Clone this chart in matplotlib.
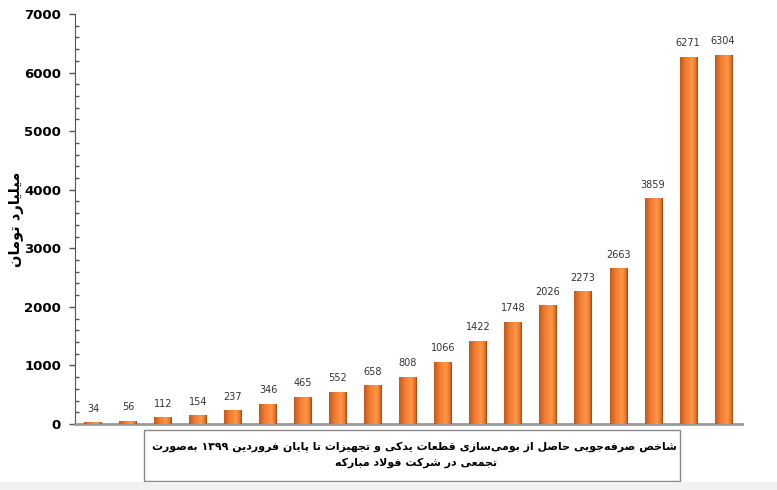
"""
Cumulative savings from localisation of spare parts, Mobarakeh Steel (to Farvardin 1399).
"""

import matplotlib

matplotlib.use("Agg")
import matplotlib.pyplot as plt
import numpy as np
from matplotlib import ticker
from matplotlib.colors import LinearSegmentedColormap
from matplotlib.patches import Rectangle

VALUES = [34, 56, 112, 154, 237, 346, 465, 552, 658, 808, 1066, 1422, 1748, 2026, 2273, 2663, 3859, 6271, 6304]
Y_LABEL = "میلیارد تومان"
BOX_LINE_1 = "شاخص صرفه\u200cجویی حاصل از بومی\u200cسازی قطعات یدکی و تجهیزات تا پایان فروردین ۱۳۹۹ به\u200cصورت"
BOX_LINE_2 = "تجمعی در شرکت فولاد مبارکه"

# isolated, final, initial, medial presentation forms
FORMS = {
    "ا": (0xFE8D, 0xFE8E, None, None), "آ": (0xFE81, 0xFE82, None, None),
    "ب": (0xFE8F, 0xFE90, 0xFE91, 0xFE92), "پ": (0xFB56, 0xFB57, 0xFB58, 0xFB59),
    "ت": (0xFE95, 0xFE96, 0xFE97, 0xFE98), "ث": (0xFE99, 0xFE9A, 0xFE9B, 0xFE9C),
    "ج": (0xFE9D, 0xFE9E, 0xFE9F, 0xFEA0), "چ": (0xFB7A, 0xFB7B, 0xFB7C, 0xFB7D),
    "ح": (0xFEA1, 0xFEA2, 0xFEA3, 0xFEA4), "خ": (0xFEA5, 0xFEA6, 0xFEA7, 0xFEA8),
    "د": (0xFEA9, 0xFEAA, None, None), "ذ": (0xFEAB, 0xFEAC, None, None),
    "ر": (0xFEAD, 0xFEAE, None, None), "ز": (0xFEAF, 0xFEB0, None, None),
    "ژ": (0xFB8A, 0xFB8B, None, None), "س": (0xFEB1, 0xFEB2, 0xFEB3, 0xFEB4),
    "ش": (0xFEB5, 0xFEB6, 0xFEB7, 0xFEB8), "ص": (0xFEB9, 0xFEBA, 0xFEBB, 0xFEBC),
    "ض": (0xFEBD, 0xFEBE, 0xFEBF, 0xFEC0), "ط": (0xFEC1, 0xFEC2, 0xFEC3, 0xFEC4),
    "ظ": (0xFEC5, 0xFEC6, 0xFEC7, 0xFEC8), "ع": (0xFEC9, 0xFECA, 0xFECB, 0xFECC),
    "غ": (0xFECD, 0xFECE, 0xFECF, 0xFED0), "ف": (0xFED1, 0xFED2, 0xFED3, 0xFED4),
    "ق": (0xFED5, 0xFED6, 0xFED7, 0xFED8), "ک": (0xFB8E, 0xFB8F, 0xFB90, 0xFB91),
    "گ": (0xFB92, 0xFB93, 0xFB94, 0xFB95), "ل": (0xFEDD, 0xFEDE, 0xFEDF, 0xFEE0),
    "م": (0xFEE1, 0xFEE2, 0xFEE3, 0xFEE4), "ن": (0xFEE5, 0xFEE6, 0xFEE7, 0xFEE8),
    "و": (0xFEED, 0xFEEE, None, None), "ه": (0xFEE9, 0xFEEA, 0xFEEB, 0xFEEC),
    "ی": (0xFBFC, 0xFBFD, 0xFBFE, 0xFBFF),
}
DIGITS = "۰۱۲۳۴۵۶۷۸۹0123456789"
PERSIAN_FONT = ["DejaVu Sans Condensed", "DejaVu Sans"]


def shape(text: str) -> str:
    """Poor man's Persian shaping + visual reordering for matplotlib."""
    out = []
    chars = list(text)
    i = 0
    while i < len(chars):
        c = chars[i]
        if c not in FORMS:
            if c != "\u200c":
                out.append(c)
            i += 1
            continue
        prev = chars[i - 1] if i > 0 else ""
        prev_joins = prev in FORMS and FORMS[prev][2] is not None
        if c == "ل" and i + 1 < len(chars) and chars[i + 1] == "ا":
            out.append(chr(0xFEFC if prev_joins else 0xFEFB))
            i += 2
            continue
        nxt = chars[i + 1] if i + 1 < len(chars) else ""
        next_joins = nxt in FORMS and FORMS[c][2] is not None
        iso, fin, ini, med = FORMS[c]
        if prev_joins and next_joins:
            out.append(chr(med))
        elif prev_joins:
            out.append(chr(fin))
        elif next_joins:
            out.append(chr(ini))
        else:
            out.append(chr(iso))
        i += 1
    visual = "".join(reversed(out))
    # keep digit runs left-to-right
    result, run = [], []
    for ch in visual:
        if ch in DIGITS:
            run.append(ch)
        else:
            result.extend(reversed(run))
            run = []
            result.append(ch)
    result.extend(reversed(run))
    return "".join(result)


W, H = 777, 490
fig = plt.figure(figsize=(W / 100, H / 100), dpi=100)
fig.patch.set_facecolor("white")
ax = fig.add_axes([75 / W, 1 - 424 / H, 667 / W, 410 / H])

positions = np.arange(len(VALUES))
bars = ax.bar(positions, VALUES, width=0.49, color="#f07f32", zorder=2)

cylinder = LinearSegmentedColormap.from_list(
    "cyl", [(0.0, "#c2581f"), (0.3, "#ee7a30"), (0.68, "#ff9646"), (0.9, "#e8732b"), (1.0, "#9a4514")]
)
gradient = np.linspace(0, 1, 64).reshape(1, -1)
for patch in bars:
    x0, y0 = patch.get_x(), patch.get_y()
    im = ax.imshow(
        gradient,
        cmap=cylinder,
        aspect="auto",
        extent=(x0, x0 + patch.get_width(), y0, y0 + patch.get_height()),
        zorder=3,
    )
    im.set_clip_path(patch)

for x, v in zip(positions, VALUES):
    ax.annotate(
        f"{v}", (x, v), xytext=(0, 6), textcoords="offset points",
        ha="center", va="bottom", fontsize=7, color="#333333",
    )

ax.set_xlim(-0.514, len(VALUES) - 1 + 0.54)
ax.set_ylim(0, 7000)
ax.set_yticks(range(0, 7001, 1000))
ax.yaxis.set_minor_locator(ticker.MultipleLocator(200))
ax.tick_params(axis="y", which="major", direction="out", length=4, width=1, color="#555555", labelsize=9.5, pad=6)
ax.tick_params(axis="y", which="minor", direction="in", length=3, width=1, color="#555555")
for lab in ax.get_yticklabels():
    lab.set_fontweight("bold")
ax.set_xticks([])
ax.spines[["top", "right"]].set_visible(False)
ax.spines["left"].set_color("#555555")
ax.spines["bottom"].set_color("#999999")
ax.spines["bottom"].set_linewidth(2)
ax.set_ylabel(shape(Y_LABEL), fontsize=10.5, fontweight="bold", family=PERSIAN_FONT)
ax.yaxis.set_label_coords(-51 / 667, 0.5)

fig.patches.append(Rectangle((144 / W, 1 - 481 / H), 536 / W, 51 / H, transform=fig.transFigure,
                             facecolor="white", edgecolor="#888888", lw=1))
fig.patches.append(Rectangle((0, 0), 1, 8 / H, transform=fig.transFigure, facecolor="#f1f1f1", edgecolor="none"))
fig.text(414 / W, 1 - 447 / H, shape(BOX_LINE_1), ha="center", va="center", fontsize=7.9,
         fontweight="bold", family=PERSIAN_FONT)
fig.text(416 / W, 1 - 463 / H, shape(BOX_LINE_2), ha="center", va="center", fontsize=7.9,
         fontweight="bold", family=PERSIAN_FONT)

fig.savefig("out.png", dpi=100)
